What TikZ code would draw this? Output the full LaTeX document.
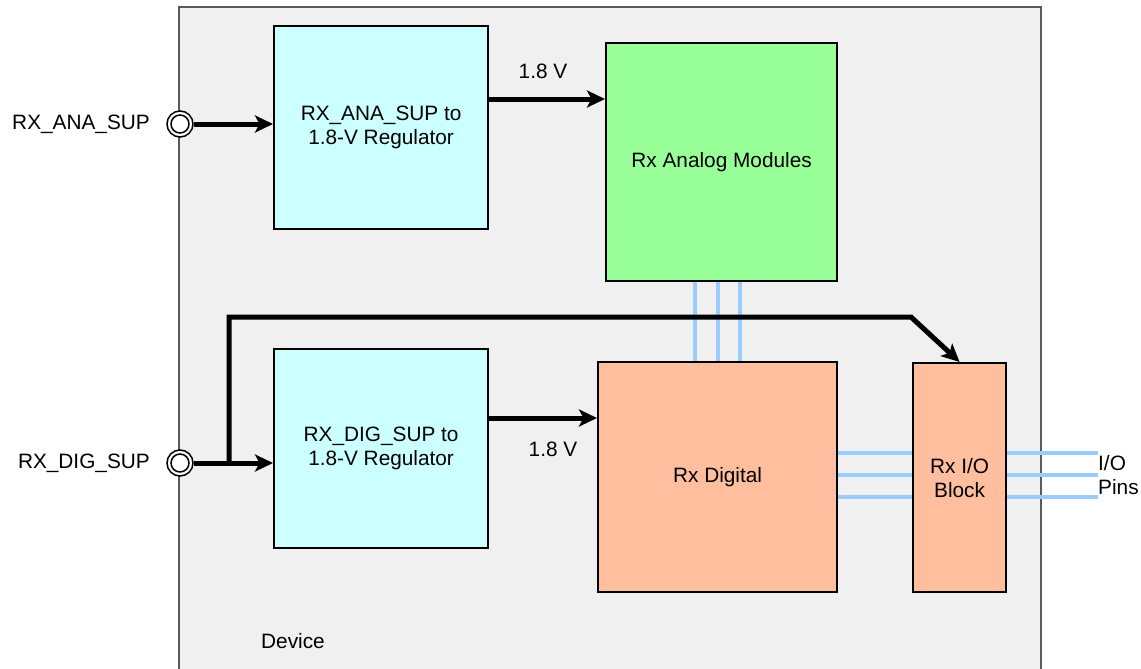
\documentclass[tikz,border=0pt]{standalone}
\usepackage{fontspec}
\setmainfont{Liberation Sans}
\usetikzlibrary{arrows.meta,calc}
\definecolor{devfill}{HTML}{F0F0F0}
\definecolor{regfill}{HTML}{CCFFFF}
\definecolor{anafill}{HTML}{99FF99}
\definecolor{digfill}{HTML}{FFBF9F}
\definecolor{busblue}{HTML}{99CCFF}
\begin{document}
\begin{tikzpicture}[x=1pt,y=-1pt,
  lbl/.style={inner sep=0pt,font=\fontsize{20.8}{24}\selectfont,align=center},
  box/.style={lbl,draw=black,line width=2.2pt,anchor=north west},
  port/.style={draw=black,circle,fill=white,line width=1.5pt,minimum size=26pt,inner sep=0pt},
  arr/.style={line width=5pt,-{Stealth[length=18pt,width=17pt,inset=4.5pt]}},
  bus/.style={busblue,line width=4pt}]
\useasboundingbox (0,0) rectangle (1141,669);
% device
\fill[devfill] (179,7) rectangle (1041,700);
\draw[black!65,line width=1.3pt] (179,700) -- (179,7) -- (1041,7) -- (1041,700);
\node[lbl] (devlbl) at (293,641) {Device};
% blocks
\node[box,fill=regfill,minimum width=214pt,minimum height=203pt] (reg1) at (273,25) {RX\_ANA\_SUP to\\1.8-V Regulator};
\node[box,fill=anafill,minimum width=231pt,minimum height=238pt] (ana) at (605,42) {Rx Analog Modules};
\node[box,fill=regfill,minimum width=214pt,minimum height=199pt] (reg2) at (273,348) {RX\_DIG\_SUP to\\1.8-V Regulator};
% buses
\foreach \x in {695,718,740}
  \draw[bus] (ana.south -| \x,0) -- (\x,361);
\node[box,fill=digfill,minimum width=239pt,minimum height=230pt] (dig) at (597,361) {Rx Digital};
\node[box,fill=digfill,minimum width=93pt,minimum height=229pt] (io) at (912,362) {Rx I/O\\Block};
\coordinate (pinsend) at (1098,475);
\foreach \y in {453,475,497} {
  \draw[bus] (dig.east |- 0,\y) -- (io.west |- 0,\y);
  \draw[bus] (io.east |- 0,\y) -- (pinsend |- 0,\y);
}
\node[lbl,anchor=west,align=left] (pins) at (1098,475) {I/O\\Pins};
% ports
\node[port] (pa) at (180,124) {};
\node[port] (pd) at (180,463) {};
\draw[line width=1.5pt] (pa.center) circle (9);
\draw[line width=1.5pt] (pd.center) circle (9);
\node[lbl,anchor=east] (pal) at (150,124) {RX\_ANA\_SUP};
\node[lbl,anchor=east] (pdl) at (150,463) {RX\_DIG\_SUP};
% arrows
\draw[arr] (pa.east) -- (reg1.west |- pa.east);
\draw[arr] (pd.east) -- (reg2.west |- pd.east);
\coordinate (v1) at (487,99);
\coordinate (v2) at (487,418);
\draw[arr] (reg1.east |- v1) -- (ana.west |- v1);
\draw[arr] (reg2.east |- v2) -- (dig.west |- v2);
\node[lbl] (v1l) at (543,71) {1.8 V};
\node[lbl] (v2l) at (553,449) {1.8 V};
% branch to I/O block
\coordinate (j) at (229,463);
\coordinate (b1) at (229,317);
\coordinate (b2) at (911,317);
\draw[arr,line join=miter] (j) -- (b1) -- (b2) -- (io.north);
\end{tikzpicture}
\end{document}
